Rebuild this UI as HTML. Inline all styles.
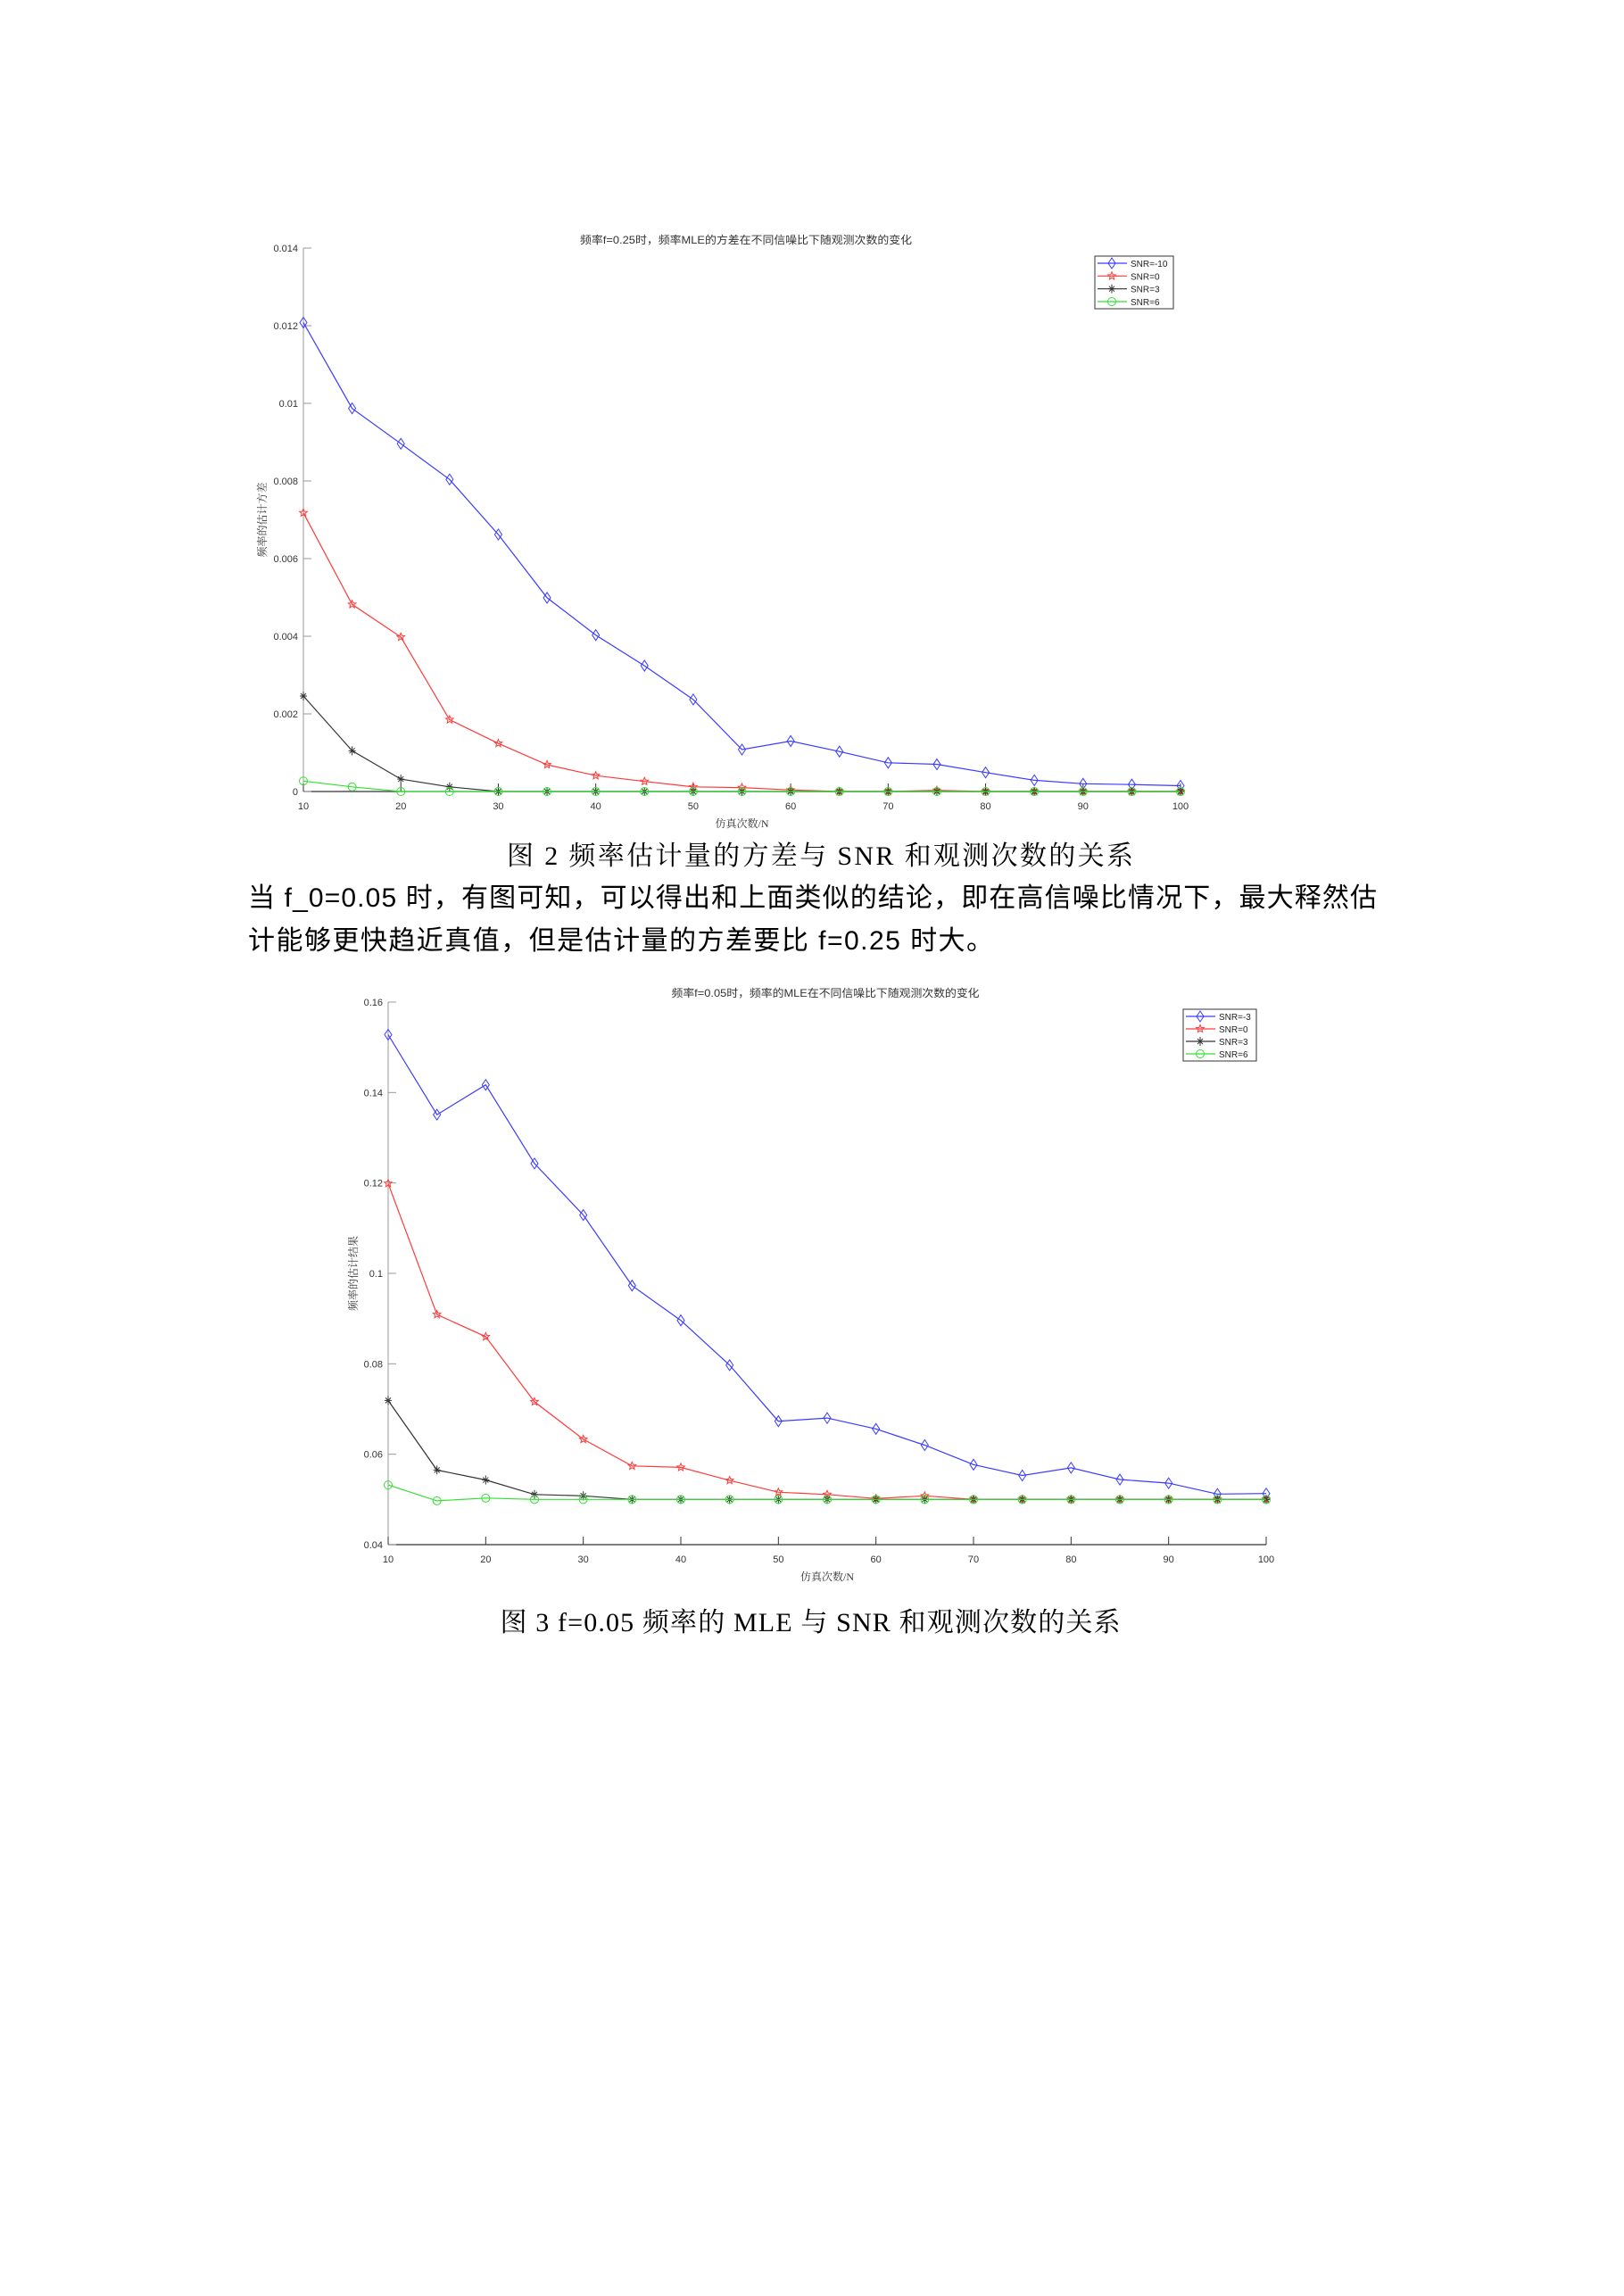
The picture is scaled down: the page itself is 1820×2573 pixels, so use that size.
<!DOCTYPE html>
<html><head><meta charset="utf-8"><style>
body{margin:0;background:#fff}
svg{display:block}
</style></head><body>
<svg id="page" width="1820" height="2573" viewBox="0 0 1820 2573" xmlns="http://www.w3.org/2000/svg">
<g id="chart1"></g>
<text x="919" y="969" text-anchor="middle" font-family="'Liberation Serif','Noto Serif CJK SC',serif" font-size="30" textLength="702" lengthAdjust="spacing" fill="#000">图 2  频率估计量的方差与 SNR 和观测次数的关系</text>
<text x="278" y="1016" font-family="'Liberation Sans','Noto Sans CJK SC',sans-serif" font-size="30" textLength="1265" lengthAdjust="spacing" fill="#000">当 f_0=0.05 时，有图可知，可以得出和上面类似的结论，即在高信噪比情况下，最大释然估</text>
<text x="278" y="1064" font-family="'Liberation Sans','Noto Sans CJK SC',sans-serif" font-size="30" textLength="835" lengthAdjust="spacing" fill="#000">计能够更快趋近真值，但是估计量的方差要比 f=0.25 时大。</text>
<g id="chart2"></g>
<text x="908" y="1828" text-anchor="middle" font-family="'Liberation Serif','Noto Serif CJK SC',serif" font-size="30" textLength="695" lengthAdjust="spacing" fill="#000">图 3  f=0.05 频率的 MLE 与 SNR 和观测次数的关系</text>
</svg>
<script>
const NS="http://www.w3.org/2000/svg";
const categories=[10,15,20,25,30,35,40,45,50,55,60,65,70,75,80,85,90,95,100];
const xTickLabels=[10,20,30,40,50,60,70,80,90,100];
// chart 1
const c1Blue=[0.01208,0.00987,0.00896,0.00804,0.00662,0.00499,0.00403,0.00324,0.00237,0.00108,0.0013,0.00103,0.00074,0.0007,0.00049,0.00029,0.0002,0.00018,0.00015];
const c1Red=[0.00718,0.00482,0.00398,0.00185,0.00124,0.00069,0.00041,0.00026,0.00012,0.0001,0.00004,0,0,0.00003,0,0,0,0,0];
const c1Black=[0.00246,0.00105,0.00032,0.00012,0,0,0,0,0,0,0,0,0,0,0,0,0,0,0];
const c1Green=[0.00027,0.00012,0,0,0,0,0,0,0,0,0,0,0,0,0,0,0,0,0];
const c1YTicks=[0,0.002,0.004,0.006,0.008,0.01,0.012,0.014];
const c1YTickLabels=["0","0.002","0.004","0.006","0.008","0.01","0.012","0.014"];
const c1Legend=["SNR=-10","SNR=0","SNR=3","SNR=6"];
// chart 2
const c2Blue=[0.1528,0.1351,0.1417,0.1243,0.1129,0.0973,0.0896,0.0797,0.0673,0.068,0.0656,0.062,0.0577,0.0553,0.057,0.0544,0.0536,0.0512,0.0513];
const c2Red=[0.1199,0.0909,0.086,0.0716,0.0633,0.0574,0.0571,0.0542,0.0516,0.0511,0.0502,0.0508,0.05,0.05,0.05,0.05,0.05,0.05,0.05];
const c2Black=[0.0719,0.0565,0.0543,0.0511,0.0508,0.05,0.05,0.05,0.05,0.05,0.05,0.05,0.05,0.05,0.05,0.05,0.05,0.05,0.05];
const c2Green=[0.0532,0.0497,0.0503,0.05,0.05,0.05,0.05,0.05,0.05,0.05,0.05,0.05,0.05,0.05,0.05,0.05,0.05,0.05,0.05];
const c2YTicks=[0.04,0.06,0.08,0.1,0.12,0.14,0.16];
const c2YTickLabels=["0.04","0.06","0.08","0.1","0.12","0.14","0.16"];
const c2Legend=["SNR=-3","SNR=0","SNR=3","SNR=6"];

function mk(parent,tag,attrs,text){const e=document.createElementNS(NS,tag);for(const k in attrs)e.setAttribute(k,attrs[k]);if(text!==undefined)e.textContent=text;parent.appendChild(e);return e;}
function marker(g,type,x,y,color){
  let e;
  if(type==='d'){e=mk(g,'polygon',{points:`${x},${y-6} ${x+4},${y} ${x},${y+6} ${x-4},${y}`,fill:'none',stroke:color,'stroke-width':1});}
  else if(type==='p'){let pts=[];for(let i=0;i<10;i++){const r=i%2?2:4.5,a=-Math.PI/2+i*Math.PI/5;pts.push((x+r*Math.cos(a)).toFixed(1)+','+(y+r*Math.sin(a)).toFixed(1));}e=mk(g,'polygon',{points:pts.join(' '),fill:'none',stroke:color,'stroke-width':1});}
  else if(type==='a'){e=mk(g,'path',{d:`M${x-4},${y}H${x+4}M${x},${y-5}V${y+5}M${x-3},${y-3}L${x+3},${y+3}M${x-3},${y+3}L${x+3},${y-3}`,stroke:color,'stroke-width':1});}
  else {e=mk(g,'circle',{cx:x,cy:y,r:4.5,fill:'none',stroke:color,'stroke-width':1});}
  
  
}
function drawChart(g,o){
  const X=v=>o.x0+(v-10)/90*(o.x1-o.x0);
  const Y=v=>o.y0-(v-o.ymin)/(o.ymax-o.ymin)*(o.y0-o.y1);
  const t=mk(g,'text',{x:o.tx,y:o.ty,'text-anchor':'middle','font-family':"'Liberation Sans','Noto Sans CJK SC',sans-serif",'font-size':12,fill:'#333',textLength:o.tl,lengthAdjust:'spacingAndGlyphs'},o.title);
  
  
  const ya=mk(g,'line',{x1:o.x0,y1:o.y0,x2:o.x0,y2:o.y1,stroke:'#999','stroke-width':1});
  
  
  const xa=mk(g,'line',{x1:o.x0,y1:o.y0,x2:o.x1,y2:o.y0,stroke:'#333','stroke-width':1.2});
  
  
  o.yt.forEach((v,i)=>{
    const y=Y(v);
    mk(g,'line',{x1:o.x0,y1:y,x2:o.x0+9,y2:y,stroke:'#999','stroke-width':1});
    const l=mk(g,'text',{x:o.x0-6,y:y+4,'text-anchor':'end','font-family':"'Liberation Sans',sans-serif",'font-size':11,fill:'#333'},o.ytl[i]);
    
    
  });
  xTickLabels.forEach(v=>{
    const x=X(v);
    mk(g,'line',{x1:x,y1:o.y0,x2:x,y2:o.y0-9,stroke:'#333','stroke-width':1});
    const l=mk(g,'text',{x:x,y:o.y0+20,'text-anchor':'middle','font-family':"'Liberation Sans',sans-serif",'font-size':11,fill:'#333'},String(v));
    
    
  });
  const xl=mk(g,'text',{x:(o.x0+o.x1)/2,y:o.y0+40,'text-anchor':'middle','font-family':"'Liberation Serif','Noto Serif CJK SC',serif",'font-size':12,fill:'#333'},'仿真次数/N');
  
  
  const yl=mk(g,'text',{x:0,y:0,transform:`translate(${o.ylx},${(o.y0+o.y1)/2}) rotate(-90)`,'text-anchor':'middle','font-family':"'Liberation Serif','Noto Serif CJK SC',serif",'font-size':12,fill:'#333'},o.ylabel);
  
  
  const cols=['#3a3aff','#ff3a3a','#333333','#33e033'];
  const types=['d','p','a','o'];
  o.series.forEach((s,si)=>{
    const sg=mk(g,'g',{});
    
    
    const pts=s.map((v,i)=>X(categories[i]).toFixed(1)+','+Y(v).toFixed(1)).join(' ');
    mk(sg,'polyline',{points:pts,fill:'none',stroke:cols[si],'stroke-width':1.2});
    s.forEach((v,i)=>marker(sg,types[si],X(categories[i]),Y(v),cols[si]));
  });
  const lg=mk(g,'g',{});
  
  
  mk(lg,'rect',{x:o.lx,y:o.ly,width:o.lw,height:o.lh,fill:'#fff',stroke:'#333','stroke-width':1});
  o.legend.forEach((name,i)=>{
    const y=o.ly+8+i*(o.lh-16)/3;
    const e=mk(lg,'g',{});
    
    
    mk(e,'line',{x1:o.lx+3,y1:y,x2:o.lx+36,y2:y,stroke:cols[i],'stroke-width':1.2});
    marker(e,types[i],o.lx+19,y,cols[i]);
    mk(e,'text',{x:o.lx+40,y:y+4,'font-family':"'Liberation Sans',sans-serif",'font-size':10,fill:'#222'},name);
  });
}
drawChart(document.getElementById('chart1'),{x0:340,x1:1323,y0:887,y1:278,ymin:0,ymax:0.014,yt:c1YTicks,ytl:c1YTickLabels,
 title:'频率f=0.25时，频率MLE的方差在不同信噪比下随观测次数的变化',tx:836,ty:273,tl:372,ylabel:'频率的估计方差',ylx:298,
 series:[c1Blue,c1Red,c1Black,c1Green],legend:c1Legend,lx:1227,ly:287,lw:88,lh:59});
drawChart(document.getElementById('chart2'),{x0:435,x1:1419,y0:1731,y1:1123,ymin:0.04,ymax:0.16,yt:c2YTicks,ytl:c2YTickLabels,
 title:'频率f=0.05时，频率的MLE在不同信噪比下随观测次数的变化',tx:925,ty:1117,tl:345,ylabel:'频率的估计结果',ylx:400,
 series:[c2Blue,c2Red,c2Black,c2Green],legend:c2Legend,lx:1326,ly:1131,lw:82,lh:58});
</script>
</body></html>
